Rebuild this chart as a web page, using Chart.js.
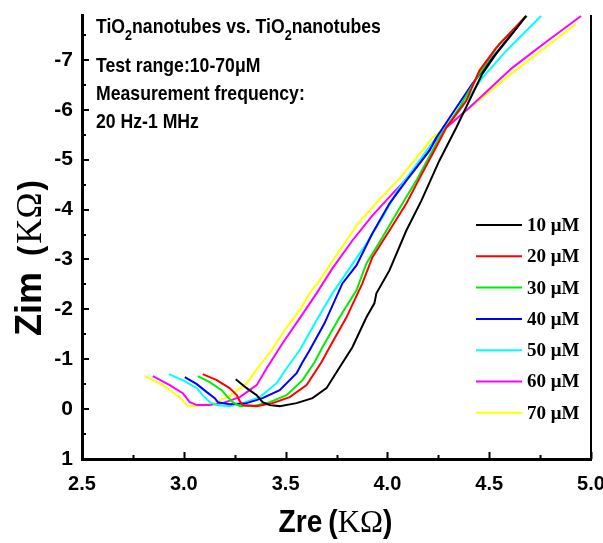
<!DOCTYPE html>
<html>
<head>
<meta charset="utf-8">
<script src="https://cdn.jsdelivr.net/npm/chart.js@4.4.1/dist/chart.umd.min.js"></script>
<style>
  html, body { margin: 0; padding: 0; background: #fff; }
  #nyquist { display: block; }
</style>
</head>
<body>
<canvas id="nyquist" width="603" height="543"></canvas>
<script>
// Nyquist plots, TiO2 nanotube electrodes, 10-70 uM
const concLabels = ["10 \u03bcM", "20 \u03bcM", "30 \u03bcM", "40 \u03bcM", "50 \u03bcM", "60 \u03bcM", "70 \u03bcM"];
const lineColors = ["#000000", "#ff0000", "#00ee00", "#0000ff", "#00ffff", "#ff00ff", "#ffff00"];

const xTicks = [2.5, 3.0, 3.5, 4.0, 4.5, 5.0];
const yTicks = [-7, -6, -5, -4, -3, -2, -1, 0, 1];

// Zre (kOhm)
const zre10 = [3.255, 3.309, 3.358, 3.387, 3.422, 3.471, 3.554, 3.632, 3.701, 3.750, 3.828, 3.897, 3.936, 3.946, 4.010, 4.093, 4.167, 4.255, 4.338, 4.402, 4.466, 4.534, 4.613, 4.681];
const zre20 = [3.093, 3.162, 3.225, 3.260, 3.275, 3.289, 3.358, 3.436, 3.520, 3.603, 3.676, 3.716, 3.799, 3.877, 3.926, 4.010, 4.093, 4.157, 4.230, 4.289, 4.387, 4.451, 4.534, 4.681];
const zre30 = [3.069, 3.127, 3.186, 3.216, 3.240, 3.275, 3.338, 3.422, 3.505, 3.583, 3.642, 3.681, 3.765, 3.848, 3.897, 3.975, 4.059, 4.142, 4.221, 4.255, 4.353, 4.451, 4.549, 4.686];
const zre40 = [3.005, 3.064, 3.113, 3.152, 3.167, 3.225, 3.309, 3.387, 3.471, 3.554, 3.583, 3.618, 3.691, 3.779, 3.848, 3.926, 4.010, 4.093, 4.206, 4.240, 4.338, 4.417, 4.515, 4.681];
const zre50 = [2.926, 3.005, 3.064, 3.093, 3.127, 3.162, 3.225, 3.289, 3.373, 3.456, 3.505, 3.569, 3.652, 3.730, 3.814, 3.897, 3.975, 4.049, 4.132, 4.240, 4.353, 4.466, 4.583, 4.755];
const zre60 = [2.848, 2.931, 2.995, 3.029, 3.064, 3.127, 3.191, 3.275, 3.358, 3.407, 3.485, 3.569, 3.652, 3.730, 3.828, 3.926, 4.025, 4.123, 4.206, 4.255, 4.402, 4.613, 4.779, 4.951];
const zre70 = [2.809, 2.897, 2.980, 3.005, 3.020, 3.064, 3.142, 3.225, 3.309, 3.363, 3.431, 3.505, 3.569, 3.618, 3.667, 3.765, 3.848, 3.946, 4.059, 4.172, 4.221, 4.387, 4.613, 4.779, 4.926];

// Zim (kOhm)
const zim10 = [-0.60, -0.42, -0.28, -0.14, -0.08, -0.06, -0.12, -0.22, -0.42, -0.74, -1.24, -1.84, -2.12, -2.32, -2.78, -3.58, -4.18, -4.98, -5.64, -6.18, -6.72, -7.12, -7.52, -7.88];
const zim20 = [-0.70, -0.58, -0.42, -0.28, -0.16, -0.08, -0.06, -0.12, -0.24, -0.48, -0.94, -1.24, -1.84, -2.52, -3.04, -3.58, -4.12, -4.62, -5.18, -5.64, -6.18, -6.78, -7.24, -7.88];
const zim30 = [-0.66, -0.54, -0.38, -0.24, -0.14, -0.06, -0.06, -0.14, -0.28, -0.58, -0.94, -1.24, -1.84, -2.38, -2.92, -3.44, -4.02, -4.58, -5.18, -5.44, -6.04, -6.72, -7.32, -7.88];
const zim40 = [-0.64, -0.50, -0.34, -0.22, -0.14, -0.10, -0.12, -0.22, -0.38, -0.72, -0.94, -1.18, -1.72, -2.52, -2.88, -3.52, -4.12, -4.58, -5.18, -5.44, -6.04, -6.52, -7.04, -7.88];
const zim50 = [-0.70, -0.56, -0.42, -0.28, -0.14, -0.08, -0.06, -0.12, -0.24, -0.52, -0.82, -1.18, -1.78, -2.32, -2.82, -3.32, -3.84, -4.38, -4.84, -5.44, -5.98, -6.64, -7.18, -7.88];
const zim60 = [-0.66, -0.48, -0.32, -0.14, -0.08, -0.08, -0.12, -0.24, -0.48, -0.82, -1.32, -1.82, -2.32, -2.82, -3.38, -3.88, -4.32, -4.74, -5.18, -5.52, -6.04, -6.84, -7.36, -7.88];
const zim70 = [-0.66, -0.48, -0.24, -0.12, -0.06, -0.06, -0.12, -0.26, -0.52, -0.82, -1.18, -1.64, -1.98, -2.32, -2.58, -3.18, -3.68, -4.14, -4.62, -5.18, -5.44, -5.98, -6.74, -7.26, -7.72];

const zreSets = [zre10, zre20, zre30, zre40, zre50, zre60, zre70];
const zimSets = [zim10, zim20, zim30, zim40, zim50, zim60, zim70];

const SANS = "'Liberation Sans', Arial, sans-serif";
const SERIF = "'Liberation Serif', 'Times New Roman', serif";

const datasets = concLabels.map((label, i) => ({
  label: label,
  data: zreSets[i].map((x, j) => ({ x: x, y: zimSets[i][j] })),
  borderColor: lineColors[i],
  borderWidth: 2,
  pointRadius: 0,
  tension: 0,
  fill: false
}));

// draws text runs left to right; sx squeezes a run horizontally
function drawRuns(ctx, runs, x, y) {
  let cx = x;
  runs.forEach(r => {
    ctx.font = r.font;
    const sx = r.sx || 1;
    ctx.save();
    ctx.translate(cx, y + (r.dy || 0));
    ctx.scale(sx, 1);
    ctx.fillText(r.text, 0, 0);
    ctx.restore();
    cx += ctx.measureText(r.text).width * sx + (r.gap || 0);
  });
  return cx - x;
}

function runsWidth(ctx, runs) {
  let w = 0;
  runs.forEach(r => {
    ctx.font = r.font;
    w += ctx.measureText(r.text).width * (r.sx || 1) + (r.gap || 0);
  });
  return w;
}

// inward ticks, right frame line, axis titles, legend, notes
const decorations = {
  id: "decorations",
  afterDraw(chart) {
    const ctx = chart.ctx;
    const area = chart.chartArea;
    const xs = chart.scales.x, ys = chart.scales.y;
    ctx.save();
    ctx.strokeStyle = "#000";
    ctx.lineWidth = 2;
    ctx.beginPath();
    xTicks.forEach(v => {
      const px = Math.round(xs.getPixelForValue(v)) + 0.5;
      ctx.moveTo(px, area.bottom); ctx.lineTo(px, area.bottom - 7);
      if (v < 5) {
        const pm = Math.round(xs.getPixelForValue(v + 0.25)) + 0.5;
        ctx.moveTo(pm, area.bottom); ctx.lineTo(pm, area.bottom - 4);
      }
    });
    yTicks.forEach(v => {
      const py = Math.round(ys.getPixelForValue(v));
      ctx.moveTo(area.left, py); ctx.lineTo(area.left + 7, py);
      const pm = Math.round(ys.getPixelForValue(v - 0.5));
      if (pm > area.top) { ctx.moveTo(area.left, pm); ctx.lineTo(area.left + 4, pm); }
    });
    ctx.stroke();

    // right frame
    ctx.beginPath();
    ctx.moveTo(area.right, area.top);
    ctx.lineTo(area.right, area.bottom + 1);
    ctx.stroke();

    ctx.fillStyle = "#000";
    ctx.textBaseline = "alphabetic";

    // axis titles
    const zreRuns = [
      { text: "Zre", font: "bold 32px " + SANS, sx: 0.88, gap: 6 },
      { text: "(", font: "bold 32px " + SANS, sx: 0.88 },
      { text: "K\u03a9", font: "31px " + SERIF },
      { text: ")", font: "bold 32px " + SANS, sx: 0.88 }
    ];
    const zx = (area.left + area.right) / 2 - runsWidth(ctx, zreRuns) / 2 - 1;
    drawRuns(ctx, zreRuns, zx, 532);

    const zimRuns = [
      { text: "Zim", font: "bold 36px " + SANS, gap: 16 },
      { text: "(", font: "bold 34px " + SANS, sx: 0.9, gap: 2 },
      { text: "K\u03a9", font: "35px " + SERIF, gap: 2 },
      { text: ")", font: "bold 34px " + SANS, sx: 0.9 }
    ];
    ctx.save();
    ctx.translate(41, 336);
    ctx.rotate(-Math.PI / 2);
    drawRuns(ctx, zimRuns, 0, 0);
    ctx.restore();

    // legend
    chart.data.datasets.forEach((ds, i) => {
      const y = 225 + i * 31.3;
      ctx.strokeStyle = ds.borderColor;
      ctx.lineWidth = 2;
      ctx.beginPath();
      ctx.moveTo(476, y); ctx.lineTo(522, y);
      ctx.stroke();
      ctx.fillStyle = "#000";
      ctx.font = "bold 19px " + SERIF;
      ctx.textBaseline = "middle";
      ctx.fillText(ds.label, 527, y + 1);
    });

    // notes in the upper left
    ctx.textBaseline = "alphabetic";
    const nf = "bold 21px " + SANS;
    const sf = "bold 15px " + SANS;
    const sq = 0.84;
    drawRuns(ctx, [
      { text: "TiO", font: nf, sx: sq },
      { text: "2", font: sf, sx: sq, dy: 7 },
      { text: "nanotubes vs. TiO", font: nf, sx: sq },
      { text: "2", font: sf, sx: sq, dy: 7 },
      { text: "nanotubes", font: nf, sx: sq }
    ], 96, 33);
    drawRuns(ctx, [{ text: "Test range:10-70\u03bcM", font: nf, sx: sq }], 96, 72);
    drawRuns(ctx, [{ text: "Measurement frequency:", font: nf, sx: sq }], 96, 100);
    drawRuns(ctx, [{ text: "20 Hz-1 MHz", font: nf, sx: sq }], 96, 128);
    ctx.restore();
  }
};

new Chart(document.getElementById("nyquist"), {
  type: "line",
  data: { datasets: datasets },
  options: {
    responsive: false,
    animation: false,
    devicePixelRatio: 1,
    layout: { padding: { top: 15, right: 12, left: 0, bottom: 0 } },
    plugins: { legend: { display: false }, tooltip: { enabled: false } },
    scales: {
      x: {
        type: "linear",
        min: 2.5,
        max: 5.0,
        afterBuildTicks: s => { s.ticks = xTicks.map(v => ({ value: v })); },
        afterFit: s => { s.height = 84; s.paddingLeft = 0; s.paddingRight = 0; },
        ticks: {
          color: "#000",
          font: { family: SANS, size: 20, weight: "bold" },
          padding: 13,
          maxRotation: 0,
          callback: v => v.toFixed(1)
        },
        grid: { drawOnChartArea: false, drawTicks: false },
        border: { display: true, color: "#000", width: 3 }
      },
      y: {
        type: "linear",
        min: -7.9,
        max: 1,
        reverse: true,
        afterBuildTicks: s => { s.ticks = yTicks.map(v => ({ value: v })); },
        afterFit: s => { s.width = 82; s.paddingTop = 0; s.paddingBottom = 0; },
        ticks: {
          color: "#000",
          font: { family: SANS, size: 21, weight: "bold" },
          padding: 9,
          callback: v => String(v)
        },
        grid: { drawOnChartArea: false, drawTicks: false },
        border: { display: true, color: "#000", width: 3 }
      }
    }
  },
  plugins: [decorations]
});
</script>
</body>
</html>
